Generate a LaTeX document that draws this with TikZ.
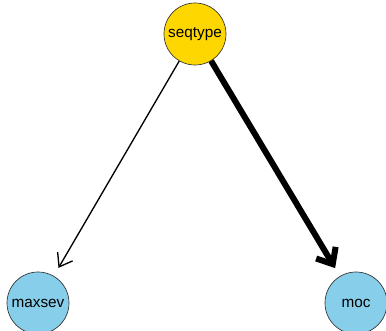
\documentclass[tikz,border=0pt]{standalone}
\usepackage{fontspec}
\setmainfont{Liberation Sans}
\usetikzlibrary{arrows.meta}
\definecolor{gold}{HTML}{FFD700}
\definecolor{skyblue}{HTML}{87CEEB}
\tikzset{
	var/.style={
			circle, draw=black!80, line width=0.5pt, minimum size=46.5pt, inner sep=0pt,
			font=\fontsize{11.5}{13}\selectfont
		},
	edge/.style={
			shorten >=7pt, line join=miter
		}
}

\begin{document}
\begin{tikzpicture}[x=0.75pt,y=-0.75pt]
			\useasboundingbox (0,0) rectangle (386,331);
			
			% Nodes
			\node[var, fill=gold] (seqtype) at (195,34) {seqtype};
			\node[var, fill=skyblue] (maxsev) at (38,303) {maxsev};
			\node[var, fill=skyblue] (moc) at (356,303) {moc};
			
			% Edges
			\draw[edge, line width=1pt, -{Straight Barb[length=9pt,width=13pt]}] (seqtype) -- (maxsev);
			\draw[edge, line width=4.5pt, -{Straight Barb[length=10pt,width=17pt]}] (seqtype) -- (moc);
			
		\end{tikzpicture}
\end{document}
